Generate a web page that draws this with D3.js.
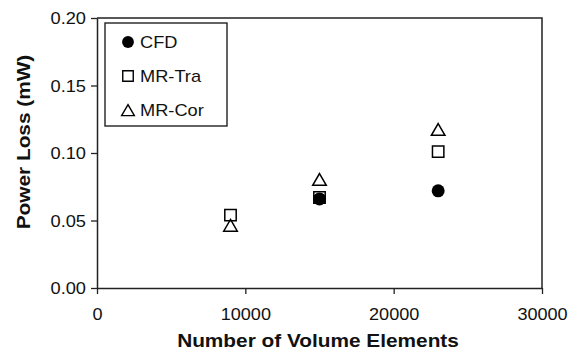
<!DOCTYPE html>
<html>
<head>
<meta charset="utf-8">
<script src="https://cdn.jsdelivr.net/npm/d3@7"></script>
<style>
  body { margin: 0; background: #fff; }
  text { font-family: "Liberation Sans", Arial, sans-serif; fill: #111; }
</style>
</head>
<body>
<script>
// data
var elements = [9000, 15000, 23000];
var cfd = [null, 0.066, 0.072];
var mrTra = [0.054, 0.067, 0.101];
var mrCor = [0.045, 0.079, 0.116];
var xTicks = [0, 10000, 20000, 30000];
var yTicks = [0, 0.05, 0.10, 0.15, 0.20];

var width = 579, height = 352;
var margin = {top: 18, right: 37, bottom: 64, left: 97};
var innerW = width - margin.left - margin.right;
var innerH = height - margin.top - margin.bottom;

var svg = d3.select("body").append("svg")
  .attr("width", width)
  .attr("height", height);

var g = svg.append("g")
  .attr("transform", "translate(" + margin.left + "," + margin.top + ")");

var x = d3.scaleLinear().domain([0, 30000]).range([0, innerW]);
var y = d3.scaleLinear().domain([0, 0.20]).range([innerH, 0]);

// frame (top and right)
g.append("path")
  .attr("d", "M0,0H" + innerW + "V" + innerH)
  .attr("fill", "none")
  .attr("stroke", "#222")
  .attr("stroke-width", 1.5);

var xAxis = g.append("g")
  .attr("transform", "translate(0," + innerH + ")")
  .call(d3.axisBottom(x).tickValues(xTicks).tickFormat(d3.format("d")).tickSize(6).tickSizeOuter(0));

var yAxis = g.append("g")
  .call(d3.axisLeft(y).tickValues(yTicks).tickFormat(d3.format(".2f")).tickSize(6).tickSizeOuter(0));

[xAxis, yAxis].forEach(function(a) {
  a.select(".domain").attr("stroke", "#222").attr("stroke-width", 1.5);
  a.selectAll(".tick line").attr("stroke", "#222").attr("stroke-width", 1.3);
  a.selectAll(".tick text")
    .attr("font-size", 16)
    .attr("font-family", "Liberation Sans, Arial, sans-serif")
    .attr("fill", "#111");
});
xAxis.selectAll(".tick text").attr("y", 0).attr("dy", 0)
  .attr("transform", "translate(0,32) scale(1.13,1)");
yAxis.selectAll(".tick text").attr("x", 0).attr("dy", "0.36em")
  .attr("transform", "translate(-11,0) scale(1.14,1)");

// axis titles
svg.append("text")
  .attr("transform", "translate(318,347) scale(1.19,1)")
  .attr("text-anchor", "middle")
  .attr("font-size", 17.5)
  .attr("font-weight", "bold")
  .text("Number of Volume Elements");

svg.append("text")
  .attr("transform", "translate(30,142) rotate(-90) scale(1.19,1)")
  .attr("text-anchor", "middle")
  .attr("font-size", 17.5)
  .attr("font-weight", "bold")
  .text("Power Loss (mW)");

// markers
var sq = d3.symbol().type(d3.symbolSquare).size(130);
var tri = d3.symbol().type(d3.symbolTriangle).size(80);

function plotSeries(vals, sym, filled) {
  g.selectAll(null)
    .data(elements.map(function(e, i) { return [e, vals[i]]; }).filter(function(d) { return d[1] != null; }))
    .enter().append("path")
    .attr("d", sym)
    .attr("transform", function(d) { return "translate(" + x(d[0]) + "," + y(d[1]) + ")"; })
    .attr("fill", filled ? "#000" : "none")
    .attr("stroke", "#000")
    .attr("stroke-width", filled ? 0 : 1.5);
}
plotSeries(mrCor, tri, false);
plotSeries(mrTra, sq, false);
g.selectAll(null)
  .data(elements.map(function(e, i) { return [e, cfd[i]]; }).filter(function(d) { return d[1] != null; }))
  .enter().append("circle")
  .attr("cx", function(d) { return x(d[0]); })
  .attr("cy", function(d) { return y(d[1]); })
  .attr("r", 6.5)
  .attr("fill", "#000");

// legend
var legend = svg.append("g").attr("transform", "translate(105,23)");
legend.append("rect")
  .attr("width", 122).attr("height", 103)
  .attr("fill", "#fff").attr("stroke", "#222").attr("stroke-width", 1.4);

var legendItems = ["CFD", "MR-Tra", "MR-Cor"];
var legendSyms = [d3.symbol().type(d3.symbolCircle).size(110), d3.symbol().type(d3.symbolSquare).size(110), d3.symbol().type(d3.symbolTriangle).size(70)];
legendItems.forEach(function(name, i) {
  var row = legend.append("g").attr("transform", "translate(0," + (19 + i * 34) + ")");
  row.append("path")
    .attr("d", legendSyms[i])
    .attr("transform", "translate(23," + (i === 2 ? 2 : 0) + ")")
    .attr("fill", i === 0 ? "#000" : "none")
    .attr("stroke", "#000")
    .attr("stroke-width", i === 0 ? 0 : 1.4);
  row.append("text")
    .attr("transform", "translate(35,6) scale(1.14,1)")
    .attr("font-size", 16)
    .text(name);
});
</script>
</body>
</html>
